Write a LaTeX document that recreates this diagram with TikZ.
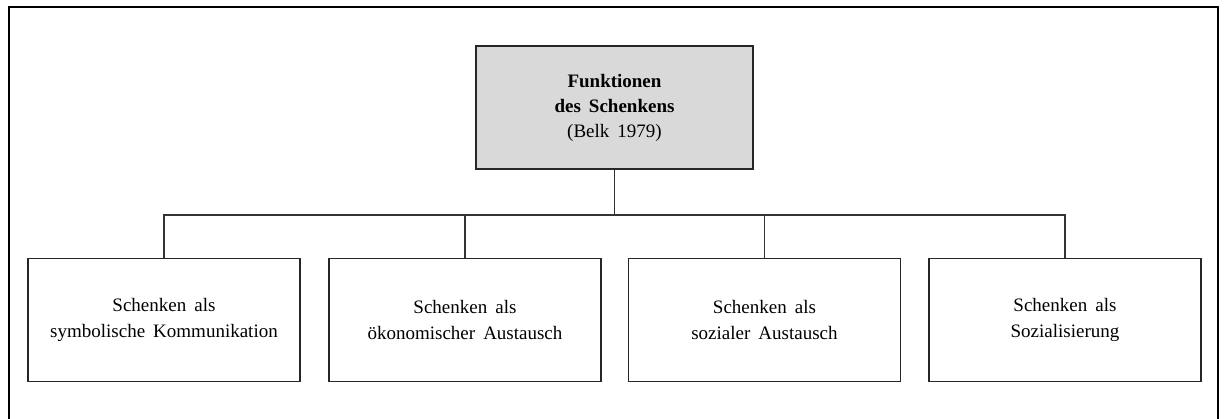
\documentclass[tikz,border=0pt]{standalone}
\usepackage{fontspec}
\setmainfont{Liberation Serif}[WordSpace=1.7]
\begin{document}
\begin{tikzpicture}[x=1pt,y=-1pt,
  box/.style={draw=black!85,line width=1.4pt,minimum width=272pt,minimum height=123pt,
    align=center,font=\fontsize{19}{26}\selectfont,inner sep=0pt},
  topbox/.style={box,minimum width=277pt,fill=black!15,font=\fontsize{19}{25}\selectfont},
  link/.style={draw=black!80,line width=1.2pt}]
\useasboundingbox (0,0) rectangle (1224,419);
\clip (0,0) rectangle (1224,419);
\fill[white] (0,0) rectangle (1224,419);
% outer frame (its lower edge runs below the page)
\draw[line width=2pt] (9,430) -- (9,7) -- (1218,7) -- (1218,430);
% root and children
\node[topbox] (root) at (614.5,107.5) {\textbf{Funktionen}\\\textbf{des Schenkens}\\(Belk 1979)};
\node[box] (b1) at (164,320) {Schenken als\\symbolische Kommunikation};
\node[box] (b2) at (465,320) {Schenken als\\ökonomischer Austausch};
\node[box] (b3) at (764.5,320) {Schenken als\\sozialer Austausch};
\node[box] (b4) at (1065,320) {Schenken als\\Sozialisierung};
\coordinate (bus) at (0,215);
% tree connectors
\draw[link] (root.south) -- (root.south |- bus);
\draw[link] (b1.north) -- (b1.north |- bus) -- (b4.north |- bus) -- (b4.north);
\draw[link] (b2.north) -- (b2.north |- bus);
\draw[link] (b3.north) -- (b3.north |- bus);
\end{tikzpicture}
\end{document}
